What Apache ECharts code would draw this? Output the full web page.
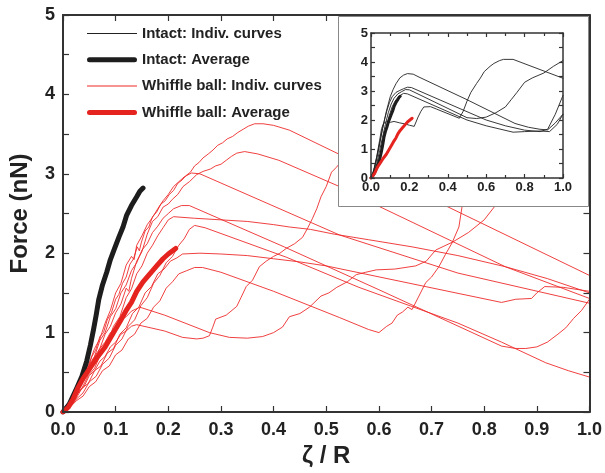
<!DOCTYPE html>
<html><head><meta charset="utf-8">
<script src="https://cdn.jsdelivr.net/npm/echarts@6/dist/echarts.min.js"></script>
<style>html,body{margin:0;padding:0;background:#fff}#c{width:605px;height:473px}</style>
</head><body><div id="c"></div>
<script>
// ---------- data (zeta/R , force nN) ----------
const legendNames = ['Intact: Indiv. curves','Intact: Average','Whiffle ball: Indiv. curves','Whiffle ball: Average'];

const intactAvg = [[0,0],[0.012,0.1],[0.026,0.3],[0.036,0.45],[0.045,0.64],[0.052,0.84],[0.058,1.04],[0.063,1.22],[0.068,1.42],[0.075,1.6],[0.083,1.76],[0.09,1.92],[0.098,2.06],[0.106,2.2],[0.114,2.33],[0.121,2.48],[0.13,2.6],[0.14,2.71],[0.146,2.78],[0.152,2.82]];
const whiffleAvg = [[0,0],[0.01,0.06],[0.019,0.16],[0.028,0.3],[0.038,0.42],[0.05,0.54],[0.064,0.68],[0.08,0.82],[0.095,0.99],[0.11,1.16],[0.121,1.29],[0.13,1.38],[0.14,1.52],[0.152,1.64],[0.165,1.74],[0.178,1.84],[0.19,1.93],[0.2,1.99],[0.214,2.06]];

const wR1 = [[0,0],[0.008,0.05],[0.015,0.12],[0.022,0.2],[0.028,0.33],[0.034,0.38],[0.041,0.5],[0.048,0.56],[0.055,0.7],[0.062,0.78],[0.07,0.95],[0.077,1.0],[0.084,1.16],[0.092,1.25],[0.1,1.42],[0.106,1.48],[0.113,1.62],[0.12,1.7],[0.127,1.86],[0.134,1.93],[0.141,2.08],[0.145,2.03],[0.149,2.14],[0.156,2.28],[0.163,2.33],[0.17,2.46],[0.178,2.52],[0.186,2.62],[0.194,2.66],[0.202,2.74],[0.21,2.79],[0.218,2.88],[0.226,2.92],[0.234,2.98],[0.242,3.02],[0.25,3.1],[0.258,3.14],[0.266,3.2],[0.276,3.25],[0.285,3.3],[0.294,3.36],[0.303,3.39],[0.312,3.44],[0.322,3.47],[0.332,3.52],[0.342,3.56],[0.352,3.6],[0.364,3.63],[0.38,3.63],[0.4,3.61],[0.43,3.55],[1.0,1.72]];
const wR2 = [[0,0],[0.01,0.06],[0.02,0.18],[0.03,0.28],[0.04,0.44],[0.05,0.52],[0.06,0.7],[0.07,0.8],[0.08,0.98],[0.09,1.08],[0.1,1.25],[0.11,1.36],[0.12,1.56],[0.125,1.52],[0.13,1.68],[0.14,1.9],[0.15,2.02],[0.16,2.24],[0.17,2.4],[0.18,2.46],[0.19,2.58],[0.2,2.62],[0.208,2.68],[0.218,2.74],[0.228,2.84],[0.24,2.9],[0.254,2.99],[0.266,3.03],[0.28,3.06],[0.29,3.1],[0.3,3.12],[0.31,3.17],[0.32,3.22],[0.33,3.26],[0.345,3.28],[0.37,3.25],[0.41,3.17],[0.525,2.84],[0.597,2.6],[0.84,1.83],[1.0,1.43]];
const wR3 = [[0,0],[0.01,0.1],[0.02,0.22],[0.03,0.35],[0.04,0.5],[0.05,0.62],[0.06,0.8],[0.07,0.92],[0.08,1.12],[0.09,1.28],[0.1,1.5],[0.11,1.62],[0.12,1.85],[0.13,1.96],[0.135,1.92],[0.14,2.1],[0.15,2.22],[0.16,2.36],[0.17,2.45],[0.18,2.56],[0.19,2.66],[0.2,2.74],[0.21,2.84],[0.22,2.9],[0.23,2.96],[0.244,3.01],[0.26,3.0],[0.525,2.23],[0.75,1.75],[1.0,1.37]];
const wD = [[0,0],[0.012,0.08],[0.024,0.2],[0.036,0.3],[0.048,0.46],[0.06,0.55],[0.072,0.74],[0.084,0.86],[0.096,1.08],[0.108,1.2],[0.12,1.44],[0.13,1.55],[0.14,1.74],[0.15,1.84],[0.16,2.0],[0.17,2.1],[0.18,2.22],[0.19,2.32],[0.2,2.42],[0.21,2.46],[0.25,2.44],[0.3,2.42],[0.35,2.4],[0.4,2.36],[0.43,2.33],[0.47,2.3],[0.515,2.24],[0.58,2.17],[0.663,2.08],[0.75,1.97],[0.84,1.83],[0.92,1.68],[1.0,1.5]];
const wE = [[0,0],[0.012,0.06],[0.025,0.16],[0.038,0.24],[0.05,0.38],[0.063,0.45],[0.075,0.6],[0.088,0.68],[0.1,0.84],[0.112,0.92],[0.124,1.08],[0.136,1.16],[0.148,1.34],[0.16,1.44],[0.172,1.62],[0.184,1.72],[0.196,1.88],[0.208,1.96],[0.22,2.1],[0.23,2.18],[0.24,2.3],[0.25,2.35],[0.27,2.32],[0.424,1.95],[0.562,1.57],[0.75,1.12],[0.833,0.88],[0.917,0.62],[0.96,0.52],[1.0,0.44]];
const wX = [[0,0],[0.01,0.12],[0.02,0.2],[0.03,0.36],[0.04,0.44],[0.05,0.6],[0.06,0.7],[0.07,0.9],[0.08,1.0],[0.09,1.2],[0.1,1.3],[0.11,1.5],[0.12,1.6],[0.13,1.78],[0.14,1.88],[0.15,2.04],[0.16,2.12],[0.17,2.26],[0.18,2.34],[0.19,2.44],[0.2,2.5],[0.21,2.56],[0.225,2.6],[0.24,2.6],[0.42,2.08],[0.6,1.54],[0.833,0.83],[0.86,0.8],[0.879,0.8],[0.9,0.82],[0.92,0.88],[0.94,0.98],[0.955,1.06],[0.97,1.18],[0.985,1.28],[1.0,1.42]];
const wG = [[0,0],[0.012,0.1],[0.024,0.16],[0.036,0.3],[0.048,0.36],[0.06,0.52],[0.072,0.58],[0.084,0.74],[0.096,0.8],[0.108,0.98],[0.12,1.06],[0.132,1.24],[0.144,1.32],[0.156,1.5],[0.168,1.58],[0.18,1.74],[0.192,1.8],[0.204,1.9],[0.216,1.94],[0.227,1.99],[0.26,2.0],[0.3,1.99],[0.35,1.97],[0.4,1.93],[0.45,1.89],[0.5,1.84],[0.833,1.38],[0.86,1.42],[0.89,1.43],[0.9,1.5],[0.915,1.58],[0.95,1.57],[1.0,1.52]];
const wF = [[0,0],[0.012,0.05],[0.025,0.14],[0.038,0.2],[0.05,0.32],[0.062,0.38],[0.075,0.52],[0.088,0.58],[0.1,0.72],[0.112,0.78],[0.124,0.92],[0.136,0.98],[0.148,1.12],[0.16,1.18],[0.172,1.32],[0.184,1.4],[0.196,1.56],[0.208,1.64],[0.22,1.74],[0.235,1.78],[0.25,1.82],[0.265,1.82],[0.3,1.76],[0.4,1.52],[0.525,1.19],[0.58,1.04],[0.6,1.0],[0.615,1.08],[0.625,1.12],[0.635,1.22],[0.645,1.26],[0.655,1.32],[0.663,1.29],[0.676,1.46],[0.689,1.63],[0.7,1.7],[0.714,1.83],[0.726,1.98],[0.739,2.13],[0.752,2.33],[0.758,2.59],[0.8,3.0],[0.85,3.4],[0.9,3.65],[1.0,3.85]];
const wS1 = [[0,0],[0.01,0.08],[0.02,0.14],[0.03,0.26],[0.04,0.32],[0.05,0.46],[0.06,0.52],[0.07,0.64],[0.08,0.7],[0.09,0.82],[0.1,0.88],[0.11,0.98],[0.12,1.02],[0.13,1.08],[0.14,1.1],[0.193,1.02],[0.227,0.94],[0.254,0.92],[0.266,0.93],[0.278,0.96],[0.284,1.06],[0.29,1.17],[0.31,1.22],[0.33,1.33],[0.338,1.44],[0.348,1.58],[0.36,1.66],[0.373,1.83],[0.386,1.9],[0.4,1.96],[0.412,2.0],[0.424,2.06],[0.44,2.12],[0.455,2.2],[0.465,2.32],[0.474,2.44],[0.482,2.56],[0.49,2.71],[0.5,2.84],[0.51,3.02],[0.519,3.08],[0.56,3.4],[0.62,3.75],[0.68,3.95],[0.72,3.9],[0.95,3.3]];
const wS3 = [[0,0],[0.01,0.1],[0.02,0.18],[0.03,0.32],[0.04,0.4],[0.05,0.56],[0.06,0.64],[0.07,0.8],[0.08,0.88],[0.09,1.0],[0.1,1.06],[0.11,1.16],[0.12,1.2],[0.13,1.27],[0.146,1.32],[0.193,1.22],[0.278,1.0],[0.316,0.94],[0.35,0.93],[0.379,0.95],[0.4,1.0],[0.417,1.07],[0.43,1.2],[0.45,1.24],[0.468,1.32],[0.49,1.46],[0.505,1.5],[0.52,1.57],[0.54,1.64],[0.557,1.73],[0.575,1.76],[0.595,1.79],[0.63,1.8],[0.67,1.84],[0.69,1.9],[0.708,2.04],[0.74,2.14],[0.77,2.26],[0.8,2.42],[0.82,2.59],[0.86,2.9],[0.92,3.15],[1.0,3.31]];
const whiffleIndiv = [wR1,wR2,wR3,wD,wE,wX,wG,wF,wS1,wS3];

const iK1 = [[0,0],[0.01,0.15],[0.02,0.4],[0.03,0.7],[0.04,1.0],[0.05,1.35],[0.06,1.7],[0.07,2.0],[0.08,2.3],[0.09,2.55],[0.1,2.8],[0.115,3.05],[0.13,3.25],[0.15,3.45],[0.17,3.55],[0.19,3.6],[0.22,3.58],[0.25,3.48],[0.5,2.7],[0.75,1.88],[0.82,1.75],[0.88,1.68],[0.92,1.66],[0.96,1.9],[1.0,2.2]];
const iK2 = [[0,0],[0.012,0.2],[0.024,0.5],[0.036,0.9],[0.048,1.3],[0.06,1.7],[0.072,2.05],[0.084,2.35],[0.096,2.6],[0.11,2.8],[0.13,2.95],[0.15,3.02],[0.17,3.08],[0.19,3.13],[0.21,3.12],[0.6,2.0],[0.7,1.8],[0.8,1.65],[0.88,1.6],[0.92,1.68],[0.96,2.2],[1.0,2.85]];
const iK3 = [[0,0],[0.015,0.2],[0.03,0.5],[0.045,0.95],[0.06,1.4],[0.075,1.85],[0.09,2.25],[0.105,2.55],[0.12,2.75],[0.14,2.9],[0.16,2.98],[0.18,3.05],[0.2,3.04],[0.5,2.08],[0.55,2.05],[0.6,2.1],[0.65,2.25],[0.7,2.45],[0.73,2.7],[0.76,2.95],[0.8,3.3],[0.84,3.45],[0.9,3.62],[0.95,3.85],[1.0,4.05]];
const iK4 = [[0,0],[0.02,0.15],[0.035,0.45],[0.05,0.85],[0.065,1.3],[0.08,1.75],[0.095,2.15],[0.11,2.45],[0.125,2.65],[0.14,2.78],[0.155,2.86],[0.17,2.92],[0.19,2.9],[0.5,2.0],[0.6,1.8],[0.74,1.58],[0.8,1.6],[0.88,1.62],[0.93,1.6],[0.97,1.85],[1.0,2.2]];
const iK5 = [[0,0],[0.015,0.3],[0.03,0.75],[0.045,1.3],[0.055,1.7],[0.065,1.88],[0.08,1.94],[0.1,1.92],[0.12,1.95],[0.15,1.9],[0.18,1.86],[0.2,1.82],[0.225,1.78],[0.235,1.8],[0.245,2.1],[0.26,2.3],[0.275,2.45],[0.31,2.46],[0.34,2.38],[0.46,2.06],[0.48,2.3],[0.5,2.65],[0.52,2.95],[0.55,3.26],[0.57,3.45],[0.59,3.67],[0.62,3.85],[0.64,3.95],[0.67,4.05],[0.69,4.09],[0.74,4.09],[1.0,3.44]];
const intactIndiv = [iK1,iK2,iK3,iK4,iK5];

// ---------- chart ----------
const FONT = '"Liberation Sans", Arial, sans-serif';
const RED = '#ee2a2a', BLACK = '#1d1d1d', AX = '#333';
const THIN_ICON = 'path://M0,0H50V1H0Z';
const THICK_ICON = 'path://M2.5,0H47.5A2.5,2.5 0 0 1 47.5,5H2.5A2.5,2.5 0 0 1 2.5,0Z';
const chart = echarts.init(document.getElementById('c'));

function ln(name, data, color, width, idx, z) {
  return {type:'line', name, data, xAxisIndex:idx, yAxisIndex:idx, symbol:'none', showSymbol:false,
    lineStyle:{color, width, join:'round', cap:'round'}, itemStyle:{color}, z, animation:false, silent:true, clip:true};
}
function xAx(grid, pos, interval, labels, fs, z, minor, name) {
  return {type:'value', gridIndex:grid, position:pos, min:0, max:1, interval, z,
    axisLine:{show:true, onZero:false, lineStyle:{color:AX, width:grid===0?2:1.5}},
    axisTick:{show:true, inside:true, length:grid===0?6:4, lineStyle:{color:AX, width:1.2}},
    minorTick:{show:minor, splitNumber:2, length:grid===0?6:3, lineStyle:{color:AX, width:1.2}},
    axisLabel:{show:labels, fontSize:fs, fontWeight:'bold', color:'#222', fontFamily:FONT, margin:grid===0?9:3, formatter:v=>v.toFixed(1)},
    splitLine:{show:false},
    name: name||'', nameLocation:'middle', nameGap:32, nameTextStyle:{fontSize:24, fontWeight:'bold', color:'#222', fontFamily:FONT}};
}
function yAx(grid, pos, labels, fs, z, name) {
  return {type:'value', gridIndex:grid, position:pos, min:0, max:5, interval:1, z,
    axisLine:{show:true, onZero:false, lineStyle:{color:AX, width:grid===0?2:1.5}},
    axisTick:{show:true, inside:true, length:grid===0?6:4, lineStyle:{color:AX, width:1.2}},
    minorTick:{show:true, splitNumber:2, length:grid===0?6:4, lineStyle:{color:AX, width:1.2}},
    axisLabel:{show:labels, fontSize:fs, fontWeight:'bold', color:'#222', fontFamily:FONT, margin:grid===0?8:3},
    splitLine:{show:false},
    name: name||'', nameLocation:'middle', nameGap:31, nameRotate:90, nameTextStyle:{fontSize:24, fontWeight:'bold', color:'#222', fontFamily:FONT}};
}

const series = [];
whiffleIndiv.forEach(d => series.push(ln(legendNames[2], d, RED, 0.9, 0, 2)));
series.push(ln(legendNames[1], intactAvg, BLACK, 5, 0, 3));
series.push(ln(legendNames[3], whiffleAvg, '#e5231f', 5, 0, 3));
intactIndiv.forEach(d => series.push(ln(legendNames[0], d, '#222', 0.9, 2, 110)));
series.push(ln(legendNames[1], intactAvg, BLACK, 3, 2, 111));
series.push(ln(legendNames[3], whiffleAvg, '#e5231f', 3, 2, 111));

chart.setOption({
  animation:false,
  backgroundColor:'#fff',
  grid:[{left:63, top:15, width:528, height:398}, {left:371, top:33, width:192, height:145}],
  xAxis:[xAx(0,'bottom',0.1,true,18,5,false,'ζ / R'), xAx(0,'top',0.1,false,18,5,false),
         xAx(1,'bottom',0.2,true,13,120,true), xAx(1,'top',0.2,false,13,120,true)],
  yAxis:[yAx(0,'left',true,18,5,'Force (nN)'), yAx(0,'right',false,18,5),
         yAx(1,'left',true,13,120), yAx(1,'right',false,13,120)],
  legend:{data:[
      {name:legendNames[0], icon:THIN_ICON},
      {name:legendNames[1], icon:THICK_ICON},
      {name:legendNames[2], icon:THIN_ICON},
      {name:legendNames[3], icon:THICK_ICON}],
    orient:'vertical', left:82, top:21, itemWidth:50, itemHeight:15, itemGap:11.3, symbolKeepAspect:true,
    textStyle:{fontSize:15, fontWeight:'bold', color:'#222', fontFamily:FONT}, selectedMode:false},
  graphic:[{type:'rect', z:100, shape:{x:338.5, y:16.5, width:250, height:190}, style:{fill:'#fff', stroke:'#888', lineWidth:1}}],
  series
});
</script></body></html>
